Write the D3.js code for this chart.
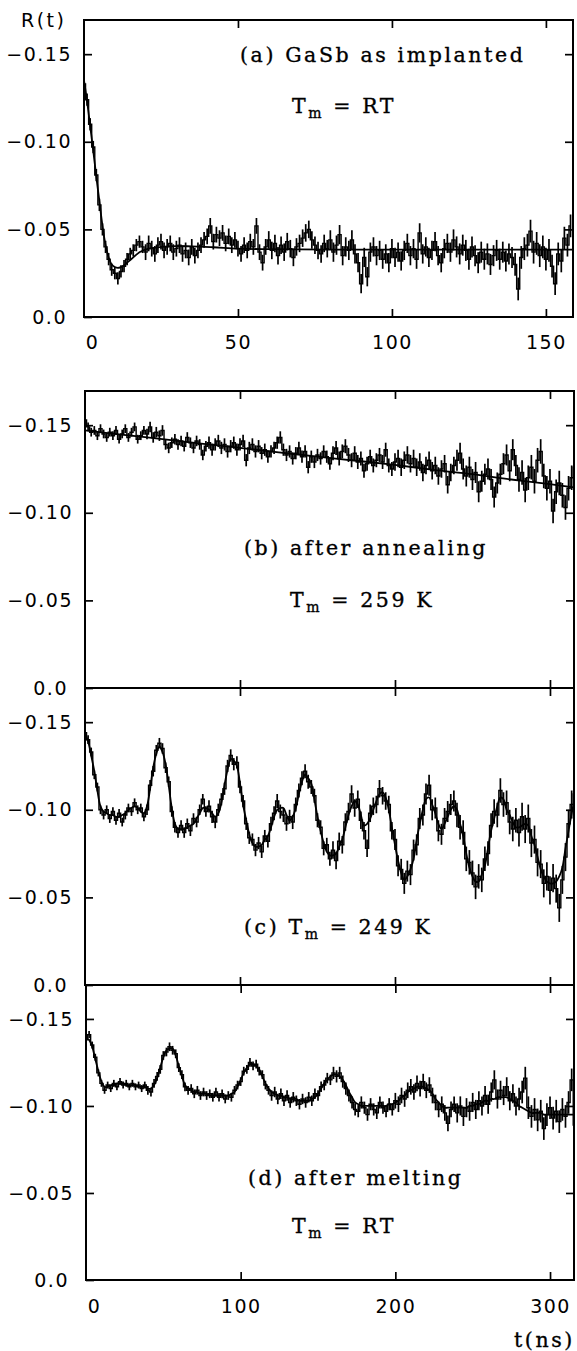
<!DOCTYPE html>
<html><head><meta charset="utf-8">
<script src="https://cdn.jsdelivr.net/npm/d3@7"></script>
<style>
body{margin:0;background:#fff}
svg{display:block}
.ann{font-family:"DejaVu Serif";font-size:20.5px;letter-spacing:2.6px;fill:#000;stroke:#000;stroke-width:0.35px}
</style></head><body>
<svg id="c" width="577" height="1351"></svg>
<script>
// ---------- DATA ----------
const yTicks = [-0.15, -0.10, -0.05, 0];
const xTicksA = [0, 50, 100, 150];
const xTicksBCD = [0, 100, 200, 300];

// (a) GaSb as implanted, 1 ns channels
const tA = d3.range(0, 159, 1);
const dataA = [
-0.133,-0.124,-0.110,-0.097,-0.081,-0.064,-0.050,-0.040,-0.033,-0.027,
-0.025,-0.022,-0.026,-0.029,-0.033,-0.036,-0.038,-0.041,-0.043,-0.040,
-0.037,-0.042,-0.039,-0.036,-0.041,-0.043,-0.038,-0.040,-0.042,-0.037,
-0.039,-0.041,-0.036,-0.038,-0.034,-0.040,-0.035,-0.038,-0.041,-0.044,
-0.046,-0.052,-0.043,-0.047,-0.045,-0.048,-0.042,-0.046,-0.041,-0.044,
-0.039,-0.036,-0.041,-0.038,-0.043,-0.040,-0.052,-0.037,-0.031,-0.040,
-0.044,-0.038,-0.042,-0.035,-0.041,-0.037,-0.043,-0.039,-0.034,-0.040,
-0.042,-0.045,-0.048,-0.050,-0.044,-0.041,-0.038,-0.036,-0.042,-0.039,
-0.044,-0.037,-0.041,-0.047,-0.035,-0.040,-0.038,-0.044,-0.036,-0.031,
-0.019,-0.034,-0.023,-0.037,-0.040,-0.035,-0.038,-0.033,-0.036,-0.031,
-0.039,-0.034,-0.037,-0.032,-0.038,-0.042,-0.035,-0.039,-0.033,-0.048,
-0.036,-0.040,-0.034,-0.038,-0.043,-0.035,-0.031,-0.039,-0.042,-0.037,
-0.044,-0.040,-0.036,-0.041,-0.038,-0.033,-0.040,-0.035,-0.031,-0.037,
-0.033,-0.036,-0.030,-0.035,-0.038,-0.033,-0.037,-0.032,-0.036,-0.034,
-0.030,-0.016,-0.034,-0.039,-0.041,-0.049,-0.037,-0.042,-0.035,-0.040,
-0.033,-0.038,-0.029,-0.019,-0.036,-0.032,-0.045,-0.041,-0.052];
const errA = [0.0035,0.0045,0.0045,0.005,0.0055,0.0055,0.006,0.0065]; // per 20 ns
const fitTA = [0,1,2,3,4,5,6,7,8,9,10,11,12,13,14,16,18,21,25,30,35,42,50,60,80,110,140,158.8];
const fitVA = [-0.135,-0.123,-0.109,-0.095,-0.080,-0.066,-0.052,-0.041,-0.034,-0.030,-0.0285,-0.028,-0.0285,-0.0295,-0.031,-0.034,-0.037,-0.039,-0.040,-0.0405,-0.0403,-0.0398,-0.039,-0.0387,-0.0385,-0.0385,-0.0385,-0.0385];

// (b)-(d), 2 ns channels
const tBCD = d3.range(0, 317, 2);
const dataB = [
-0.153,-0.149,-0.146,-0.147,-0.144,-0.148,-0.145,-0.143,-0.146,-0.144,
-0.147,-0.142,-0.145,-0.148,-0.143,-0.146,-0.149,-0.142,-0.144,-0.147,
-0.145,-0.149,-0.143,-0.146,-0.144,-0.147,-0.139,-0.137,-0.140,-0.142,
-0.139,-0.141,-0.138,-0.143,-0.140,-0.137,-0.141,-0.139,-0.133,-0.138,
-0.140,-0.136,-0.139,-0.141,-0.137,-0.139,-0.135,-0.138,-0.140,-0.136,
-0.139,-0.141,-0.130,-0.137,-0.139,-0.135,-0.138,-0.134,-0.136,-0.132,
-0.135,-0.137,-0.140,-0.143,-0.136,-0.133,-0.135,-0.131,-0.134,-0.137,
-0.132,-0.135,-0.126,-0.132,-0.129,-0.133,-0.131,-0.135,-0.132,-0.128,
-0.134,-0.137,-0.131,-0.135,-0.138,-0.133,-0.130,-0.134,-0.129,-0.131,
-0.124,-0.128,-0.132,-0.127,-0.130,-0.133,-0.129,-0.136,-0.127,-0.125,
-0.129,-0.131,-0.126,-0.130,-0.133,-0.128,-0.131,-0.126,-0.129,-0.123,
-0.127,-0.130,-0.124,-0.127,-0.121,-0.125,-0.128,-0.116,-0.123,-0.127,
-0.130,-0.134,-0.125,-0.121,-0.126,-0.119,-0.123,-0.112,-0.118,-0.122,
-0.125,-0.119,-0.109,-0.117,-0.122,-0.128,-0.133,-0.124,-0.136,-0.127,
-0.119,-0.123,-0.113,-0.120,-0.126,-0.118,-0.130,-0.135,-0.121,-0.114,
-0.118,-0.101,-0.112,-0.117,-0.110,-0.103,-0.114,-0.120,-0.126];
const errB = [0.0025,0.003,0.0035,0.0035,0.004,0.005,0.006,0.007]; // per 40 ns
const fitTB = [0,25,50,75,100,125,150,175,200,225,250,275,300,315.5];
const fitVB = [-0.147,-0.1445,-0.142,-0.1395,-0.137,-0.1345,-0.132,-0.1297,-0.1273,-0.1245,-0.122,-0.119,-0.1163,-0.1145];

const dataC = [
-0.144,-0.140,-0.133,-0.120,-0.113,-0.100,-0.097,-0.100,-0.095,-0.099,
-0.094,-0.098,-0.093,-0.097,-0.101,-0.099,-0.104,-0.100,-0.101,-0.096,
-0.100,-0.114,-0.122,-0.134,-0.138,-0.135,-0.124,-0.116,-0.099,-0.090,
-0.087,-0.091,-0.087,-0.092,-0.088,-0.095,-0.093,-0.100,-0.106,-0.099,
-0.102,-0.096,-0.093,-0.100,-0.106,-0.112,-0.125,-0.131,-0.126,-0.127,
-0.113,-0.105,-0.092,-0.084,-0.083,-0.077,-0.081,-0.076,-0.085,-0.082,
-0.092,-0.098,-0.105,-0.099,-0.097,-0.092,-0.096,-0.093,-0.103,-0.111,
-0.118,-0.122,-0.116,-0.113,-0.108,-0.094,-0.090,-0.078,-0.080,-0.072,
-0.077,-0.071,-0.082,-0.080,-0.093,-0.099,-0.109,-0.101,-0.106,-0.094,
-0.088,-0.078,-0.098,-0.102,-0.103,-0.112,-0.108,-0.105,-0.103,-0.088,
-0.083,-0.068,-0.066,-0.058,-0.065,-0.063,-0.077,-0.080,-0.095,-0.097,
-0.109,-0.114,-0.100,-0.101,-0.088,-0.086,-0.095,-0.099,-0.103,-0.105,
-0.097,-0.090,-0.087,-0.072,-0.070,-0.064,-0.056,-0.062,-0.060,-0.072,
-0.075,-0.091,-0.099,-0.097,-0.111,-0.103,-0.104,-0.093,-0.089,-0.094,
-0.087,-0.096,-0.089,-0.095,-0.081,-0.083,-0.070,-0.069,-0.058,-0.062,
-0.054,-0.061,-0.055,-0.044,-0.060,-0.073,-0.092,-0.103,-0.109];
const errC = [0.0025,0.003,0.0035,0.004,0.005,0.006,0.007,0.008];
const fitC = [
-0.143,-0.139,-0.131,-0.122,-0.111,-0.102,-0.099,-0.098,-0.097,-0.097,
-0.096,-0.096,-0.097,-0.098,-0.100,-0.101,-0.102,-0.101,-0.099,-0.098,
-0.102,-0.112,-0.124,-0.132,-0.136,-0.133,-0.126,-0.114,-0.101,-0.092,
-0.089,-0.089,-0.089,-0.090,-0.091,-0.092,-0.095,-0.098,-0.101,-0.101,
-0.100,-0.098,-0.096,-0.098,-0.104,-0.114,-0.123,-0.129,-0.128,-0.125,
-0.115,-0.103,-0.094,-0.086,-0.081,-0.079,-0.079,-0.080,-0.083,-0.085,
-0.090,-0.096,-0.100,-0.101,-0.101,-0.097,-0.094,-0.096,-0.101,-0.109,
-0.116,-0.120,-0.118,-0.115,-0.106,-0.096,-0.088,-0.081,-0.076,-0.074,
-0.074,-0.075,-0.079,-0.083,-0.090,-0.097,-0.102,-0.105,-0.103,-0.097,
-0.091,-0.092,-0.095,-0.100,-0.105,-0.109,-0.110,-0.107,-0.100,-0.090,
-0.080,-0.071,-0.064,-0.060,-0.062,-0.066,-0.072,-0.083,-0.092,-0.100,
-0.106,-0.107,-0.103,-0.098,-0.092,-0.089,-0.092,-0.096,-0.100,-0.102,
-0.100,-0.092,-0.085,-0.075,-0.067,-0.062,-0.059,-0.059,-0.063,-0.068,
-0.078,-0.088,-0.095,-0.102,-0.107,-0.106,-0.100,-0.097,-0.093,-0.090,
-0.090,-0.091,-0.092,-0.091,-0.085,-0.080,-0.073,-0.066,-0.062,-0.059,
-0.058,-0.058,-0.059,-0.062,-0.067,-0.078,-0.088,-0.098,-0.106];

const dataD = [
-0.138,-0.141,-0.135,-0.128,-0.119,-0.113,-0.109,-0.112,-0.110,-0.113,
-0.111,-0.114,-0.112,-0.113,-0.111,-0.113,-0.111,-0.112,-0.110,-0.112,
-0.109,-0.108,-0.113,-0.117,-0.121,-0.129,-0.131,-0.134,-0.132,-0.130,
-0.122,-0.118,-0.111,-0.109,-0.110,-0.107,-0.109,-0.106,-0.108,-0.106,
-0.107,-0.105,-0.108,-0.105,-0.107,-0.104,-0.106,-0.105,-0.109,-0.112,
-0.114,-0.120,-0.121,-0.125,-0.123,-0.124,-0.120,-0.118,-0.112,-0.109,
-0.106,-0.108,-0.104,-0.107,-0.103,-0.106,-0.102,-0.105,-0.103,-0.101,
-0.104,-0.102,-0.105,-0.103,-0.107,-0.106,-0.111,-0.112,-0.116,-0.115,
-0.119,-0.117,-0.119,-0.114,-0.110,-0.106,-0.102,-0.098,-0.097,-0.102,
-0.099,-0.095,-0.101,-0.098,-0.096,-0.102,-0.099,-0.097,-0.101,-0.098,
-0.103,-0.101,-0.106,-0.104,-0.109,-0.111,-0.108,-0.113,-0.110,-0.114,
-0.109,-0.112,-0.106,-0.102,-0.098,-0.101,-0.096,-0.090,-0.098,-0.101,
-0.096,-0.100,-0.094,-0.099,-0.097,-0.102,-0.098,-0.103,-0.100,-0.106,
-0.101,-0.108,-0.115,-0.104,-0.109,-0.106,-0.111,-0.103,-0.107,-0.100,
-0.104,-0.108,-0.116,-0.099,-0.094,-0.098,-0.092,-0.097,-0.087,-0.095,
-0.099,-0.093,-0.097,-0.091,-0.098,-0.094,-0.102,-0.115,-0.089];
const errD = [0.002,0.0025,0.0025,0.003,0.0035,0.0045,0.0055,0.0065];
const fitD = [
-0.139,-0.138,-0.134,-0.127,-0.120,-0.114,-0.111,-0.111,-0.112,-0.112,
-0.113,-0.113,-0.113,-0.112,-0.112,-0.112,-0.112,-0.111,-0.111,-0.111,
-0.110,-0.110,-0.112,-0.116,-0.122,-0.128,-0.132,-0.133,-0.133,-0.129,
-0.123,-0.117,-0.112,-0.110,-0.109,-0.108,-0.108,-0.107,-0.107,-0.107,
-0.106,-0.106,-0.106,-0.106,-0.106,-0.106,-0.106,-0.107,-0.108,-0.111,
-0.115,-0.119,-0.122,-0.124,-0.124,-0.123,-0.121,-0.117,-0.113,-0.110,
-0.108,-0.107,-0.106,-0.106,-0.105,-0.105,-0.104,-0.104,-0.104,-0.103,
-0.103,-0.103,-0.103,-0.104,-0.105,-0.107,-0.110,-0.113,-0.115,-0.117,
-0.118,-0.118,-0.117,-0.115,-0.112,-0.108,-0.105,-0.102,-0.101,-0.100,
-0.100,-0.100,-0.100,-0.100,-0.100,-0.100,-0.100,-0.100,-0.101,-0.101,
-0.102,-0.103,-0.105,-0.106,-0.108,-0.109,-0.110,-0.111,-0.111,-0.111,
-0.110,-0.109,-0.107,-0.104,-0.102,-0.100,-0.099,-0.099,-0.099,-0.099,
-0.099,-0.099,-0.099,-0.099,-0.100,-0.100,-0.101,-0.101,-0.102,-0.103,
-0.103,-0.104,-0.104,-0.105,-0.105,-0.105,-0.105,-0.104,-0.103,-0.102,
-0.100,-0.099,-0.098,-0.097,-0.096,-0.096,-0.096,-0.096,-0.095,-0.095,
-0.095,-0.095,-0.095,-0.095,-0.095,-0.095,-0.095,-0.095,-0.095];

// ---------- LAYOUT ----------
const panels = [
  {left:84,right:573,top:20,bottom:317,xMax:158.8,xTicks:xTicksA,t:tA,data:dataA,err:errA,seg:20,fitT:fitTA,fitV:fitVA,xLabels:true,pad:19},
  {left:85,right:574,top:391,bottom:688,xMax:315.5,xTicks:xTicksBCD,t:tBCD,data:dataB,err:errB,seg:40,fitT:fitTB,fitV:fitVB,xLabels:false},
  {left:85,right:574,top:688,bottom:985,xMax:315.5,xTicks:xTicksBCD,t:tBCD,data:dataC,err:errC,seg:40,fitT:tBCD,fitV:fitC,xLabels:false},
  {left:86,right:574,top:985,bottom:1280,xMax:315.5,xTicks:xTicksBCD,t:tBCD,data:dataD,err:errD,seg:40,fitT:tBCD,fitV:fitD,xLabels:true,pad:20}
];

const svg = d3.select("#c");
const tickFmt = d => d === 0 ? "0.0" : "\u2212" + (-d).toFixed(2);

panels.forEach((p, k) => {
  const x = d3.scaleLinear().domain([0, p.xMax]).range([p.left, p.right]);
  const y = d3.scaleLinear().domain([0, -0.1695]).range([p.bottom, p.top]);
  const id = "clip" + k;
  svg.append("clipPath").attr("id", id).append("rect")
    .attr("x", p.left).attr("y", p.top).attr("width", p.right - p.left).attr("height", p.bottom - p.top);
  const g = svg.append("g").attr("clip-path", `url(#${id})`);
  const pts = p.t.map((t, i) => [t, p.data[i]]);
  const e = d => p.err[Math.min(p.err.length - 1, Math.floor(d[0] / p.seg))];
  g.selectAll("line.e").data(pts).join("line")
    .attr("x1", d => x(d[0])).attr("x2", d => x(d[0]))
    .attr("y1", d => y(d[1] - e(d)))
    .attr("y2", d => y(d[1] + e(d)))
    .attr("stroke", "#000").attr("stroke-width", 1.7);
  g.append("path").datum(pts)
    .attr("d", d3.line().x(d => x(d[0])).y(d => y(d[1])).curve(d3.curveStep))
    .attr("fill", "none").attr("stroke", "#000").attr("stroke-width", 1.4);
  const fp = p.fitT.map((t, i) => [t, p.fitV[i]]);
  g.append("path").datum(fp)
    .attr("d", d3.line().x(d => x(d[0])).y(d => y(d[1])).curve(d3.curveCatmullRom.alpha(0.5)))
    .attr("fill", "none").attr("stroke", "#000").attr("stroke-width", 1.8);

  svg.append("rect").attr("x", p.left).attr("y", p.top)
    .attr("width", p.right - p.left).attr("height", p.bottom - p.top)
    .attr("fill", "none").attr("stroke", "#000").attr("stroke-width", 2);

  const style = a => a.call(s => s.select(".domain").remove())
    .call(s => s.selectAll("line").attr("stroke", "#000").attr("stroke-width", 1.7))
    .call(s => s.selectAll("text").attr("fill", "#000").attr("font-family", "DejaVu Sans").attr("font-size", 19).attr("letter-spacing", "1.5px"));

  const la = svg.append("g").attr("transform", `translate(${p.left},0)`)
    .call(d3.axisLeft(y).tickValues(yTicks).tickFormat(tickFmt).tickSizeInner(-8).tickSizeOuter(0).tickPadding(12));
  style(la);
  la.selectAll(".tick").filter(d => d === 0).select("text").attr("x", -17);
  const ra = svg.append("g").attr("transform", `translate(${p.right},0)`)
    .call(d3.axisRight(y).tickValues(yTicks.slice(0, 3)).tickFormat("").tickSizeInner(-8).tickSizeOuter(0));
  style(ra);
  const ta = svg.append("g").attr("transform", `translate(0,${p.top})`)
    .call(d3.axisTop(x).tickValues(p.xTicks.slice(1)).tickFormat("").tickSizeInner(-8).tickSizeOuter(0));
  style(ta);
  const ba = svg.append("g").attr("transform", `translate(0,${p.bottom})`)
    .call(d3.axisBottom(x).tickValues(p.xTicks).tickFormat(p.xLabels ? d3.format("d") : "").tickSizeInner(-8).tickSizeOuter(0).tickPadding(p.pad || 3));
  style(ba);
  ba.selectAll(".tick").filter(d => d === 0).select("line").remove();
  ba.selectAll(".tick").filter(d => d === 0).select("text").attr("dx", 8);
});

svg.append("text").attr("x", 21).attr("y", 27).text("R(t)")
  .attr("font-family", "DejaVu Sans").attr("font-size", 19).attr("letter-spacing", "2.5px");
svg.append("text").attr("class", "ann").attr("x", 514).attr("y", 1347).attr("letter-spacing", "2px").text("t(ns)");

function ann(x, y, s) { svg.append("text").attr("class", "ann").attr("x", x).attr("y", y).text(s); }
function annTm(x, y, pre, rest) {
  const t = svg.append("text").attr("class", "ann").attr("x", x).attr("y", y);
  t.append("tspan").text(pre + "T");
  t.append("tspan").attr("font-size", 14).attr("dy", 5).text("m");
  t.append("tspan").attr("dy", -5).text(rest);
}
ann(240, 62, "(a) GaSb as implanted");
annTm(292, 113, "", " = RT");
ann(244, 555, "(b) after annealing");
annTm(290, 607, "", " = 259 K");
annTm(244, 934, "(c) ", " = 249 K");
ann(248, 1185, "(d) after melting");
annTm(292, 1233, "", " = RT");
</script></body></html>
